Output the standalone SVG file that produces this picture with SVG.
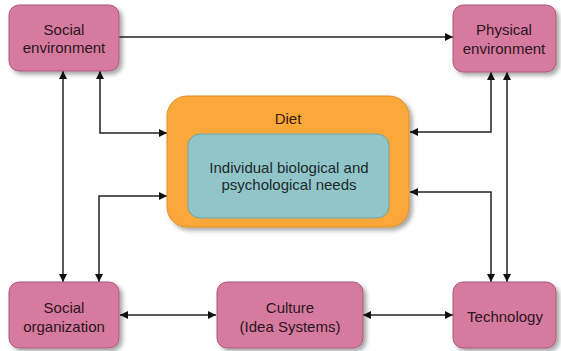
<svg xmlns="http://www.w3.org/2000/svg" width="561" height="351" viewBox="0 0 561 351">
  <defs>
    <filter id="shadow" x="-10%" y="-10%" width="130%" height="130%">
      <feDropShadow dx="3" dy="3" stdDeviation="2" flood-color="#000" flood-opacity="0.35"/>
    </filter>
    <marker id="arrow" viewBox="0 0 10 10" refX="10" refY="5" markerWidth="8" markerHeight="8" markerUnits="userSpaceOnUse" orient="auto-start-reverse">
      <path d="M0,0 L10,5 L0,10 z" fill="#111"/>
    </marker>
  </defs>
  <style>
    .box { fill: #d77a9f; stroke: #a8587b; stroke-width: 1; filter: url(#shadow); }
    .diet { fill: #fba83a; stroke: #e08d25; stroke-width: 1; filter: url(#shadow); }
    .needs { fill: #92c5c8; stroke: #6fa3a6; stroke-width: 1; }
    .label { font-family: "Liberation Sans", Arial, sans-serif; font-size: 15px; fill: #2a1620; text-anchor: middle; }
    .needs-label { fill: #1c2a2c; }
    .diet-label { fill: #3a1a08; }
    .conn { fill: none; stroke: #222; stroke-width: 1.5; }
  </style>

  <rect width="561" height="351" fill="#fff"/>

  <!-- connectors -->
  <g id="connectors">
    <line class="conn" x1="119" y1="37" x2="453" y2="37" marker-end="url(#arrow)"/>
    <line class="conn" x1="63" y1="71" x2="63" y2="282" marker-start="url(#arrow)" marker-end="url(#arrow)"/>
    <polyline class="conn" points="100,71 100,133 167,133" marker-start="url(#arrow)" marker-end="url(#arrow)"/>
    <polyline class="conn" points="167,196 99,196 99,282" marker-start="url(#arrow)" marker-end="url(#arrow)"/>
    <line class="conn" x1="507" y1="72" x2="507" y2="282" marker-start="url(#arrow)" marker-end="url(#arrow)"/>
    <polyline class="conn" points="491,72 491,132 410,132" marker-start="url(#arrow)" marker-end="url(#arrow)"/>
    <polyline class="conn" points="410,192 491,192 491,282" marker-start="url(#arrow)" marker-end="url(#arrow)"/>
    <line class="conn" x1="120" y1="315" x2="216" y2="315" marker-start="url(#arrow)" marker-end="url(#arrow)"/>
    <line class="conn" x1="363" y1="315" x2="453" y2="315" marker-start="url(#arrow)" marker-end="url(#arrow)"/>
  </g>

  <g id="social-environment">
    <rect class="box" x="9" y="5" width="110" height="66" rx="10"/>
    <text class="label" x="64" y="35">Social</text>
    <text class="label" x="64" y="53">environment</text>
  </g>

  <g id="physical-environment">
    <rect class="box" x="453" y="5" width="103" height="67" rx="10"/>
    <text class="label" x="504" y="35">Physical</text>
    <text class="label" x="504" y="54">environment</text>
  </g>

  <g id="diet">
    <rect class="diet" x="167" y="96" width="242" height="131" rx="20"/>
    <text class="label diet-label" x="288" y="124">Diet</text>
  </g>

  <g id="needs">
    <rect class="needs" x="188" y="134" width="201" height="84" rx="12"/>
    <text class="label needs-label" x="289" y="173">Individual biological and</text>
    <text class="label needs-label" x="289" y="190">psychological needs</text>
  </g>

  <g id="social-organization">
    <rect class="box" x="9" y="282" width="110" height="66" rx="10"/>
    <text class="label" x="64" y="313">Social</text>
    <text class="label" x="64" y="332">organization</text>
  </g>

  <g id="culture">
    <rect class="box" x="217" y="282" width="146" height="66" rx="10"/>
    <text class="label" x="290" y="313">Culture</text>
    <text class="label" x="290" y="332">(Idea Systems)</text>
  </g>

  <g id="technology">
    <rect class="box" x="453" y="282" width="103" height="66" rx="10"/>
    <text class="label" x="505" y="322">Technology</text>
  </g>
</svg>
